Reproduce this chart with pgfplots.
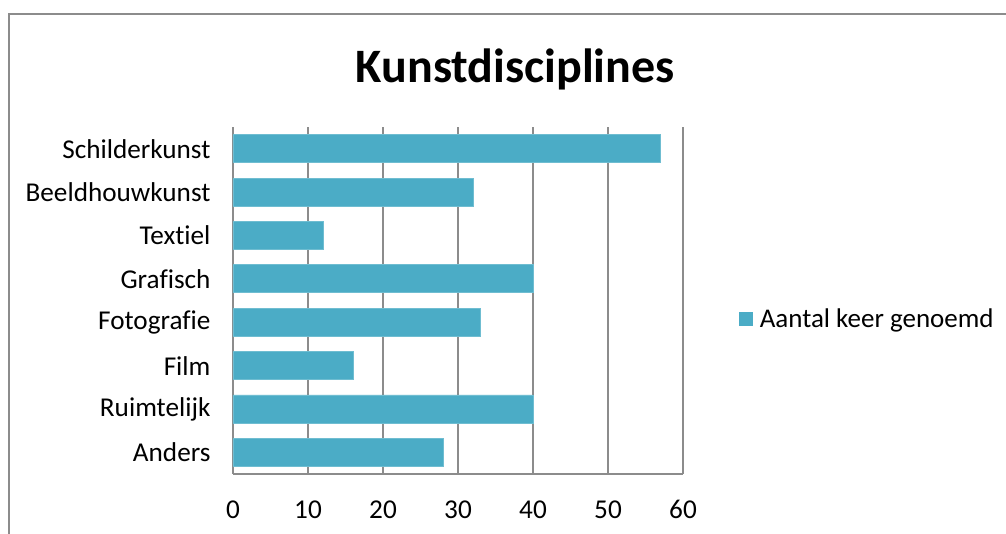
\documentclass[border=0pt]{standalone}
\usepackage{pgfplots}
\pgfplotsset{compat=1.18}
\usepackage{fontspec}
\setmainfont{Carlito}[Ligatures=NoCommon]
\definecolor{barc}{HTML}{4BACC6}
\definecolor{gridc}{HTML}{8C8C8C}
\begin{document}
\begin{tikzpicture}[x=1pt,y=1pt]
\path[use as bounding box] (0,0) rectangle (1006,533);
\draw[gridc, line width=2pt] (9,-5) -- (9,519) -- (1010,519);
\begin{axis}[
  at={(233pt,59pt)}, anchor=south west,
  width=450pt, height=347pt, scale only axis,
  xbar, bar width=28pt,
  xmin=0, xmax=60, xtick={0,10,...,60},
  ymin=-0.5, ymax=7.5, y dir=reverse,
  ytick={0,...,7},
  yticklabels={Schilderkunst,Beeldhouwkunst,Textiel,Grafisch,Fotografie,Film,Ruimtelijk,Anders},
  major tick length=0pt,
  xmajorgrids, grid style={gridc, line width=1.2pt},
  axis x line*=bottom, axis y line*=left,
  axis line style={gridc, line width=1.2pt},
  tick label style={font=\fontsize{27.2}{30}\selectfont, text=black},
  /pgf/number format/assume math mode=true,
  xticklabel style={yshift=-23pt},
  yticklabel style={xshift=-19pt},
  title={\bfseries Kunstdisciplines},
  title style={font=\fontsize{48}{54}\selectfont, at={(axis description cs:0.627,1.150)}, anchor=center},
  legend style={at={(axis description cs:1.124,0.448)}, anchor=west, draw=none, fill=none,
    font=\fontsize{27}{30}\selectfont, inner sep=0pt, nodes={inner xsep=2pt}},
  legend image code/.code={\fill[barc] (0pt,-6.5pt) rectangle (13pt,6.5pt); \path (18pt,0pt);},
  legend cell align=left,
]
\addplot[fill=barc, draw=barc!80!white, line width=0.8pt] coordinates {
 (57,0) (32,1) (12,2) (40,3) (33,4) (16,5) (40,6) (28,7)
};
\addlegendentry{Aantal keer genoemd}
\end{axis}
\end{tikzpicture}
\end{document}
